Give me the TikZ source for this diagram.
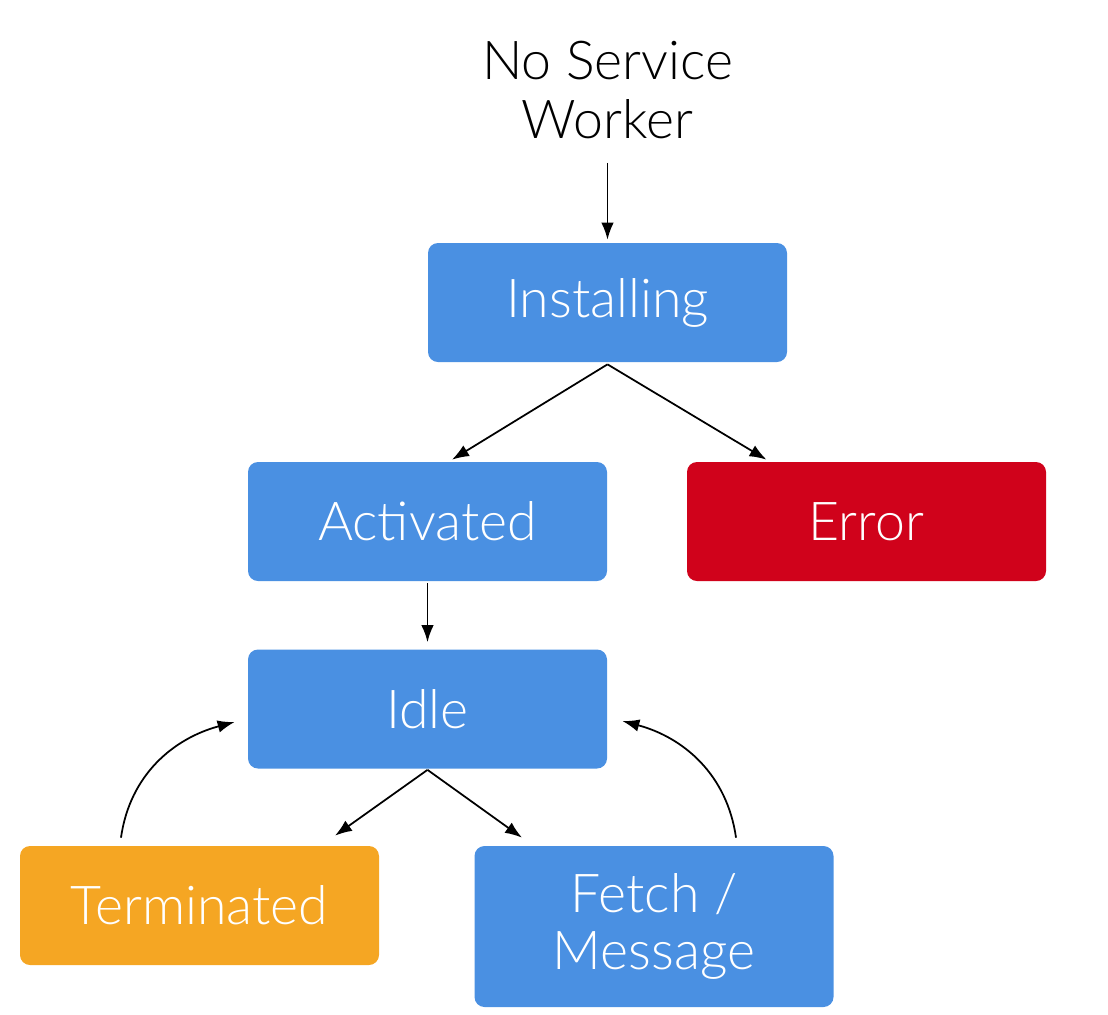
\documentclass[tikz,border=0pt]{standalone}
\usepackage{fontspec}
\setmainfont{Lato Light}
\usetikzlibrary{positioning,calc,arrows.meta}
\definecolor{swblue}{HTML}{4A90E2}
\definecolor{swred}{HTML}{D0021B}
\definecolor{sworange}{HTML}{F5A623}

\begin{document}
\begin{tikzpicture}[
  state/.style={rectangle, rounded corners=0.2cm, fill=swblue, text=white, minimum width=7.18cm, minimum height=2.38cm, inner sep=0pt, align=center, font=\fontsize{30.5}{32}\selectfont},
  flow/.style={-{Latex[length=0.34cm, width=0.25cm]}, line width=1pt, black},
]
\useasboundingbox (0,0) rectangle (22.16,-20.28);
% boxes, px/50 from the top left corner
\node[align=center, font=\fontsize{30.5}{34}\selectfont] (nosw) at (12.15,-1.8) {No Service\\Worker};
\node[state] (inst) at (12.15,-6.05) {Installing};
\node[state] (act) at (8.55,-10.43) {Activated};
\node[state, fill=swred] (err) at (17.33,-10.43) {Error};
\node[state] (idle) at (8.55,-14.18) {Idle};
\node[state, fill=sworange] (term) at (3.99,-18.11) {Terminated};
\node[state, minimum height=3.22cm] (fetch) at (13.08,-18.53) {Fetch /\\Message};

\draw[flow] ($(nosw.south)+(0,-0.35)$) -- ($(inst.north)+(0,0.06)$);
\draw[flow] ($(inst.south)+(0,-0.04)$) -- ($(act.north)+(0.49,0.04)$);
\draw[flow] ($(inst.south)+(0,-0.04)$) -- ($(err.north)+(-2.0,0.04)$);
\draw[flow] ($(act.south)+(0,-0.04)$) -- ($(idle.north)+(0,0.14)$);
\draw[flow] ($(idle.south)+(0,-0.02)$) -- ($(term.north)+(2.71,0.2)$);
\draw[flow] ($(idle.south)+(0,-0.02)$) -- ($(fetch.north)+(-2.64,0.16)$);
% back to idle
\draw[flow] ($(term.north)+(-1.57,0.16)$) to[out=82, in=195] ($(idle.west)+(-0.26,-0.26)$);
\draw[flow] ($(fetch.north)+(1.64,0.16)$) to[out=98, in=-15] ($(idle.east)+(0.3,-0.24)$);
\end{tikzpicture}
\end{document}
